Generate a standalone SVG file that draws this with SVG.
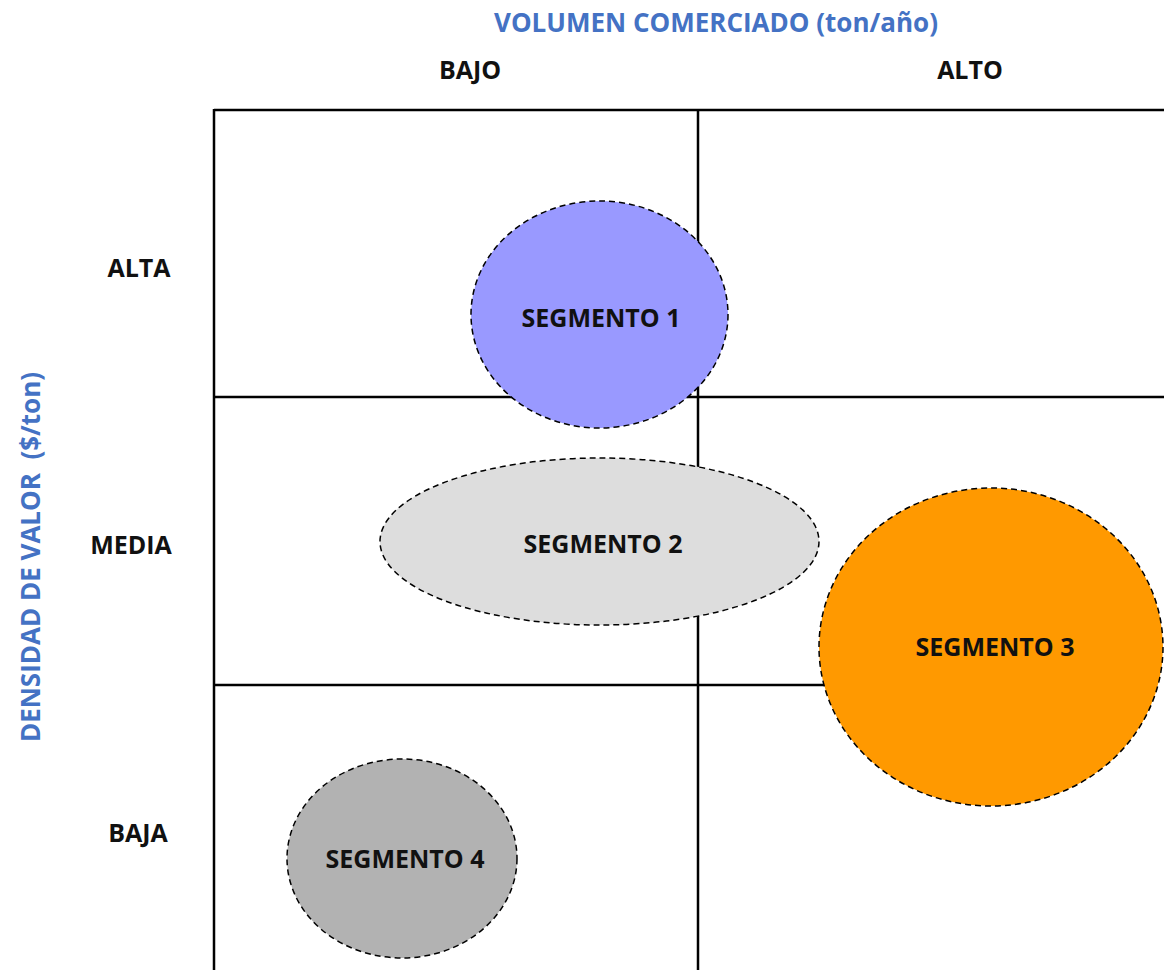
<svg xmlns="http://www.w3.org/2000/svg" width="1164" height="970" viewBox="0 0 1164 970">
<style>
.lbl{font-family:"Open Sans","DejaVu Sans",sans-serif;font-weight:700;font-size:25px;fill:#111;text-anchor:middle}
.ax{font-family:"Open Sans","DejaVu Sans",sans-serif;font-weight:700;font-size:26px;fill:#4472C4;text-anchor:middle;white-space:pre}
.grid{stroke:#000;stroke-width:2.5;fill:none}
.seg{stroke:#000;stroke-width:1.5;stroke-dasharray:6 4}
</style>
<rect width="1164" height="970" fill="#fff"/>
<g id="connectors">
<line class="grid" x1="214" y1="110" x2="1164" y2="110"/>
<line class="grid" x1="214" y1="109" x2="214" y2="970"/>
<line class="grid" x1="698" y1="110" x2="698" y2="970"/>
<line class="grid" x1="214" y1="397" x2="1164" y2="397"/>
<line class="grid" x1="214" y1="685" x2="1000" y2="685"/>
</g>
<g id="axis-x"><text class="ax" x="716" y="32">VOLUMEN COMERCIADO (ton/año)</text></g>
<g id="axis-y"><text class="ax" xml:space="preserve" transform="translate(40,557) rotate(-90)" x="0" y="0">DENSIDAD DE VALOR  ($/ton)</text></g>
<g id="col-bajo"><text class="lbl" x="470" y="79">BAJO</text></g>
<g id="col-alto"><text class="lbl" x="970" y="79">ALTO</text></g>
<g id="row-alta"><text class="lbl" x="139" y="277">ALTA</text></g>
<g id="row-media"><text class="lbl" x="131" y="554">MEDIA</text></g>
<g id="row-baja"><text class="lbl" x="138" y="842">BAJA</text></g>
<g id="seg1"><ellipse class="seg" cx="599.5" cy="314.5" rx="128.5" ry="113.5" fill="#9999FF"/><text class="lbl" x="601" y="327">SEGMENTO 1</text></g>
<g id="seg2"><ellipse class="seg" cx="599.5" cy="541.5" rx="219.5" ry="83.5" fill="#DDDDDD"/><text class="lbl" x="603" y="553">SEGMENTO 2</text></g>
<g id="seg3"><ellipse class="seg" cx="991" cy="647" rx="172" ry="159" fill="#FF9900"/><text class="lbl" x="995" y="656">SEGMENTO 3</text></g>
<g id="seg4"><ellipse class="seg" cx="402" cy="858.5" rx="115" ry="99.5" fill="#B2B2B2"/><text class="lbl" x="405" y="868">SEGMENTO 4</text></g>
</svg>
